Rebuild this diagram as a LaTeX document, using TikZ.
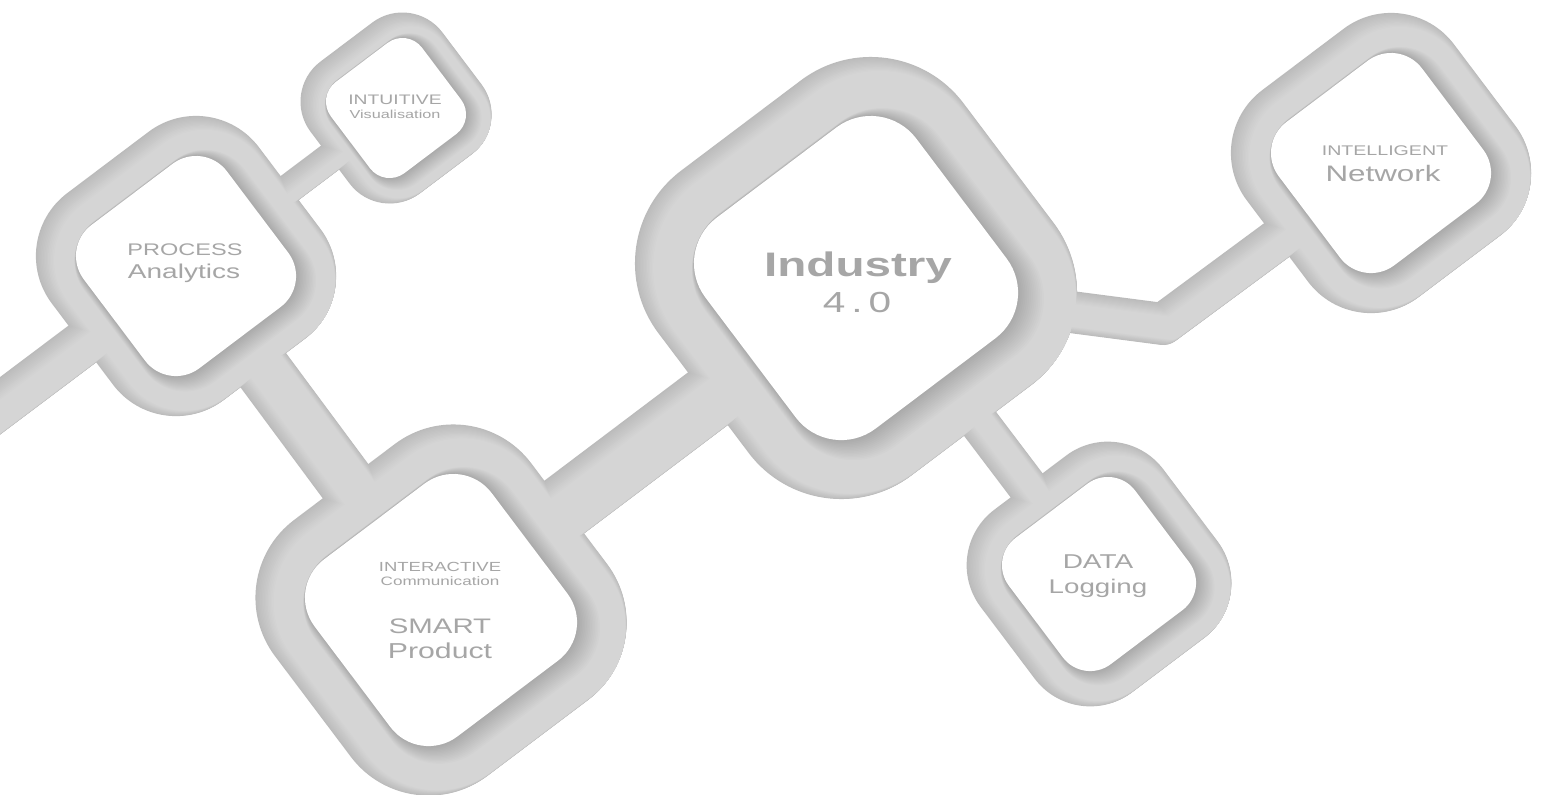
\documentclass[tikz,border=0pt]{standalone}
\usepackage{fontspec}
\newfontfamily\ef{Liberation Sans}[FakeStretch=1.4]
\usetikzlibrary{calc}
\definecolor{txtgrey}{HTML}{A6A6A6}
\tikzset{
  lbl/.style={inner sep=0pt, anchor=base, text=txtgrey},
}
% rounded square rotated by 37 degrees: #1 centre, #2 half side, #3 corner radius, #4 style
\newcommand\rsq[4]{%
  \path[#4, shift={#1}, rotate=37, rounded corners={#3*0.5pt}] (-#2,-#2) rectangle (#2,#2);}
\begin{document}
\begin{tikzpicture}[x=0.5pt,y=-0.5pt]
\useasboundingbox (0,0) rectangle (1542,794);
\fill[white] (0,0) rectangle (1542,794);
% node centres
\coordinate (intu) at (396,108);
\coordinate (proc) at (186,266);
\coordinate (smart) at (441,610);
\coordinate (ind) at (856,278);
\coordinate (data) at (1099,574);
\coordinate (net) at (1381,163);
% connector ends
\coordinate (lft) at (-80,466);
\coordinate (smart-i) at ($(smart)+(0,-10)$);
\coordinate (ind-s) at ($(ind)+(0,9)$);
\coordinate (ind-d) at ($(ind)+(0,-18)$);
\coordinate (data-i) at ($(data)+(0,7)$);
\coordinate (ind-n) at ($(ind)+(0,6)$);
\coordinate (bend) at (1163,324);
% grey layers (inner shadow from upper left)
\foreach \d in {0,0.8,...,10.4} {
  \pgfmathsetmacro\k{26.5-1.05*\d}
  \pgfmathsetmacro\sx{0.89*\d}
  \pgfmathsetmacro\sy{0.45*\d}
  \begin{scope}[draw=black!\k, fill=black!\k, line cap=butt]
    \draw[line width={(46-2*\d)*0.5pt}] ($(lft)+(\sx,\sy)$) -- ($(proc)+(\sx,\sy)$);
    \draw[line width={(30-2*\d)*0.5pt}] ($(proc)+(\sx,\sy)$) -- ($(intu)+(\sx,\sy)$);
    \draw[line width={(57-2*\d)*0.5pt}] ($(proc)+(\sx,\sy)$) -- ($(smart)+(\sx,\sy)$);
    \draw[line width={(66-2*\d)*0.5pt}] ($(smart-i)+(\sx,\sy)$) -- ($(ind-s)+(\sx,\sy)$);
    \draw[line width={(40-2*\d)*0.5pt}] ($(ind-d)+(\sx,\sy)$) -- ($(data-i)+(\sx,\sy)$);
    \draw[line width={(42-2*\d)*0.5pt}, line join=round] ($(ind-n)+(\sx,\sy)$) -- ($(bend)+(\sx,\sy)$) -- ($(net)+(\sx,\sy)$);
    \foreach \n/\H in {intu/70, proc/110, smart/136, ind/162, data/97, net/110} {
      \pgfmathsetmacro\a{1.179*\H-\d}
      \pgfmathsetmacro\r{0.716*\H-\d}
      \rsq{($(\n)+(\sx,\sy)$)}{\a}{\r}{fill=black!\k}
    }
  \end{scope}
}
% white interiors with soft shadow
\foreach \n/\H in {intu/70, proc/110, smart/136, ind/162, data/97, net/110} {
  \pgfmathsetmacro\a{0.815*\H}
  \pgfmathsetmacro\r{0.352*\H}
  \pgfmathsetmacro\f{0.3+0.7*\H/162}
  \foreach \e in {1,...,14} {
    \pgfmathsetmacro\ee{\e*\f}
    \pgfmathsetmacro\ea{\a+\ee}
    \pgfmathsetmacro\er{\r+\ee}
    \rsq{($(\n)+({0.85*\ee},{0.43*\ee})$)}{\ea}{\er}{fill=black, fill opacity=0.012}
  }
  \rsq{(\n)}{\a}{\r}{fill=white}
}
% labels
\node[lbl, font=\ef\fontsize{6.9pt}{7pt}\selectfont] (t-intu1) at (395,104) {INTUITIVE};
\node[lbl, font=\ef\fontsize{5.8pt}{6pt}\selectfont] (t-intu2) at (395,118.5) {Visualisation};
\node[lbl, font=\ef\fontsize{8.4pt}{9pt}\selectfont] (t-proc1) at (185,255) {PROCESS};
\node[lbl, font=\ef\fontsize{10pt}{11pt}\selectfont] (t-proc2) at (184,278) {Analytics};
\node[lbl, font=\ef\bfseries\fontsize{17pt}{18pt}\selectfont] (t-ind1) at (858,276.7) {Industry};
\node[lbl, font=\ef\fontsize{14.5pt}{15pt}\selectfont] (t-ind2) at (857,312.7) {4\hspace{3pt}.\hspace{3pt}0};
\node[lbl, font=\ef\fontsize{6.6pt}{7pt}\selectfont] (t-sm1) at (440,571.7) {INTERACTIVE};
\node[lbl, font=\ef\fontsize{6.1pt}{7pt}\selectfont] (t-sm2) at (440,585.7) {Communication};
\node[lbl, font=\ef\fontsize{10.5pt}{11pt}\selectfont] (t-sm3) at (440,633.3) {SMART};
\node[lbl, font=\ef\fontsize{10.8pt}{11pt}\selectfont] (t-sm4) at (440,658) {Product};
\node[lbl, font=\ef\fontsize{10pt}{11pt}\selectfont] (t-data1) at (1098,568) {DATA};
\node[lbl, font=\ef\fontsize{9.9pt}{11pt}\selectfont] (t-data2) at (1098,593) {Logging};
\node[lbl, font=\ef\fontsize{7pt}{8pt}\selectfont] (t-net1) at (1385,155.7) {INTELLIGENT};
\node[lbl, font=\ef\fontsize{11.2pt}{12pt}\selectfont] (t-net2) at (1383,181.7) {Network};
\end{tikzpicture}
\end{document}
